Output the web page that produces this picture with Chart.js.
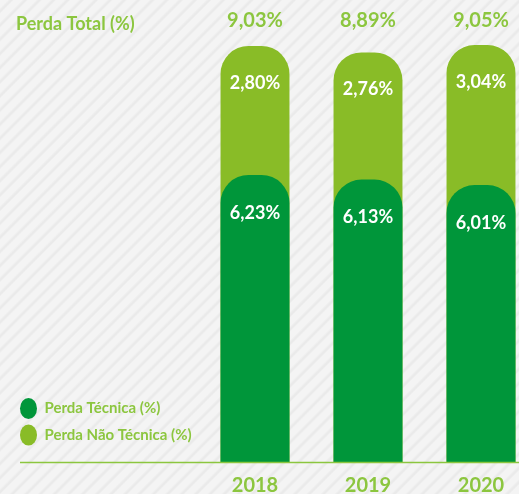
<!DOCTYPE html>
<html lang="pt-BR">
<head>
  <meta charset="UTF-8">
  <title>Perda Total (%)</title>
  <script src="https://cdn.jsdelivr.net/npm/chart.js@4"></script>
  <style>
    html, body {
      margin: 0;
      padding: 0;
    }
    body {
      width: 519px;
      height: 494px;
      overflow: hidden;
      background: repeating-linear-gradient(135deg, #f4f4f4 0px, #f4f4f4 5.5px, #eaeaea 7.5px, #eaeaea 8.5px, #f4f4f4 10px);
    }
    #wrap {
      position: relative;
      width: 540px;
      height: 494px;
    }
  </style>
</head>
<body>
  <div id="wrap"><canvas id="lossChart" width="540" height="494"></canvas></div>

  <script>
    // dados
    const years = ['2018', '2019', '2020'];
    const perdaTecnica = [6.23, 6.13, 6.01];
    const perdaNaoTecnica = [2.80, 2.76, 3.04];
    const perdaTotal = [9.03, 8.89, 9.05];

    const darkGreen = '#00963a';
    const lightGreen = '#89bc27';
    const textGreen = '#8cc63f';

    const legendWidth = 190;   // empurra a área do gráfico para a direita
    const legendLift = 40;     // sobe a legenda um pouco

    const fmt = v => v.toFixed(2).replace('.', ',') + '%';

    Chart.defaults.font.family = 'Lato, sans-serif';

    // título, valores e linha de base
    const labelsPlugin = {
      id: 'perdaLabels',
      beforeLayout(chart) {
        const legend = chart.legend;
        if (legend && !legend._patched) {
          const fit = legend.fit;
          legend.fit = function () {
            fit.call(this);
            this.width = legendWidth;
            if (this.columnSizes && this.columnSizes[0]) {
              this.columnSizes[0].height += legendLift;
            }
          };
          legend._patched = true;
        }
      },
      afterDatasetsDraw(chart) {
        const { ctx, chartArea } = chart;
        const dark = chart.getDatasetMeta(0).data;
        const light = chart.getDatasetMeta(1).data;

        ctx.save();
        // linha de base
        ctx.strokeStyle = textGreen;
        ctx.lineWidth = 1.5;
        ctx.beginPath();
        ctx.moveTo(20, chartArea.bottom + 0.5);
        ctx.lineTo(chart.width, chartArea.bottom + 0.5);
        ctx.stroke();

        // título
        ctx.fillStyle = textGreen;
        ctx.font = 'bold 18px Lato, sans-serif';
        ctx.textAlign = 'left';
        ctx.textBaseline = 'middle';
        ctx.fillText('Perda Total (%)', 16, 24);

        ctx.textAlign = 'center';
        years.forEach((y, i) => {
          // total acima da barra
          ctx.fillStyle = textGreen;
          ctx.font = 'bold 20px Lato, sans-serif';
          ctx.fillText(fmt(perdaTotal[i]), light[i].x, chartArea.top - 12.5);

          ctx.fillStyle = '#ffffff';
          ctx.font = 'bold 18px Lato, sans-serif';
          ctx.fillText(fmt(perdaNaoTecnica[i]), light[i].x, light[i].y + 37);
          ctx.fillText(fmt(perdaTecnica[i]), dark[i].x, dark[i].y + 38);
        });
        ctx.restore();
      }
    };

    const ctx = document.getElementById('lossChart').getContext('2d');
    const chart = new Chart(ctx, {
      type: 'bar',
      data: {
        labels: years,
        datasets: [
          {
            label: 'Perda Técnica (%)',
            data: perdaTecnica,
            backgroundColor: darkGreen,
            borderRadius: { topLeft: 28, topRight: 28, bottomLeft: 0, bottomRight: 0 },
            borderSkipped: false,
            grouped: false,
            categoryPercentage: 1,
            barPercentage: 0.61
          },
          {
            // a barra clara vai até o total; a parte visível é a não técnica
            label: 'Perda Não Técnica (%)',
            data: perdaTotal,
            backgroundColor: lightGreen,
            borderRadius: { topLeft: 28, topRight: 28, bottomLeft: 0, bottomRight: 0 },
            borderSkipped: false,
            grouped: false,
            categoryPercentage: 1,
            barPercentage: 0.61
          }
        ]
      },
      options: {
        responsive: false,
        animation: false,
        layout: {
          padding: { top: 33.5, left: 8.5, right: 2.5, bottom: 0 }
        },
        plugins: {
          tooltip: { enabled: false },
          legend: {
            position: 'left',
            align: 'end',
            labels: {
              usePointStyle: true,
              pointStyle: 'circle',
              pointStyleWidth: 17,
              padding: 11.5,
              color: textGreen,
              font: { size: 15, weight: 'bold' }
            }
          }
        },
        scales: {
          x: {
            grid: { display: false },
            border: { display: false },
            ticks: {
              color: textGreen,
              padding: 4,
              font: { size: 20, weight: 'bold' }
            },
            afterFit(scale) {
              scale.height = 32;
            }
          },
          y: {
            display: false,
            min: 0,
            max: 9.3
          }
        }
      },
      plugins: [labelsPlugin]
    });
  </script>
</body>
</html>
